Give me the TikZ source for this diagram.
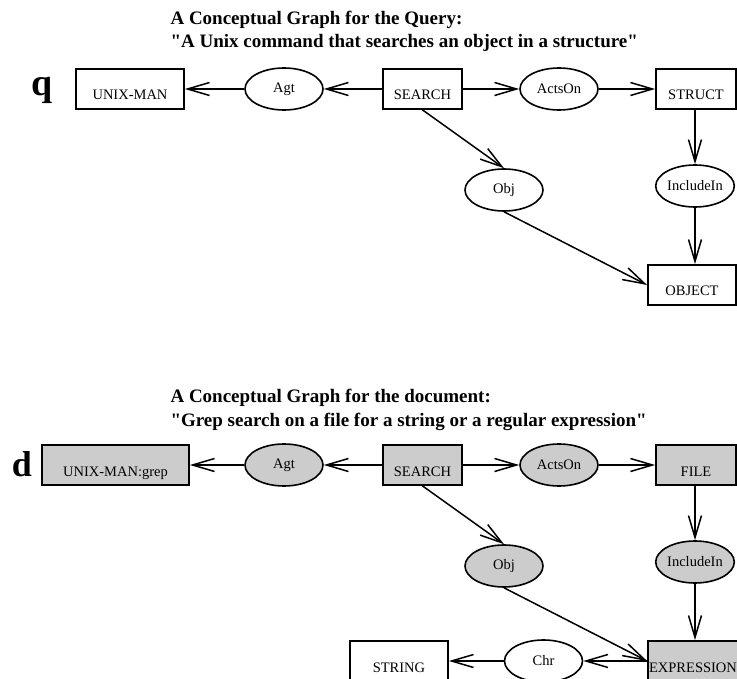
\documentclass[tikz,border=0pt]{standalone}
\usepackage{fontspec}
\setmainfont{Liberation Serif}
\usetikzlibrary{shapes.geometric,arrows.meta}

\begin{document}
\begin{tikzpicture}[x=1pt,y=-1pt,
    concept/.style={draw,rectangle,line width=1.8pt,minimum height=40pt,inner sep=0pt,
      text height=22pt,text depth=0pt,font=\fontsize{14.5}{16}\selectfont},
    relation/.style={draw,ellipse,line width=1.6pt,minimum width=78pt,minimum height=42pt,
      inner sep=0pt,font=\fontsize{14.5}{16}\selectfont},
    shaded/.style={fill=gray!40},
    title/.style={anchor=base west,font=\fontsize{19}{23}\selectfont\bfseries},
    tag/.style={anchor=base,font=\fontsize{38}{40}\selectfont\bfseries},
    link/.style={line width=1.5pt,-{Straight Barb[length=22pt,width=13pt]}}]
    \useasboundingbox (0,0) rectangle (737,679);

    % query graph
    \node[title] (qt1) at (167,25) {A Conceptual Graph for the Query:};
    \node[title] (qt2) at (167,48) {\textquotedbl A Unix command that searches an object in a structure\textquotedbl};
    \node[tag] (q) at (42,96) {q};
    \node[concept,minimum width=108pt] (qman)    at (130,89)   {UNIX-MAN};
    \node[relation]                    (qagt)    at (284,89)   {Agt};
    \node[concept,minimum width=79pt]  (qsearch) at (422.5,89) {SEARCH};
    \node[relation]                    (qacts)   at (559,89)   {ActsOn};
    \node[concept,minimum width=80pt]  (qstruct) at (696,89)   {STRUCT};
    \node[relation]                    (qobj)    at (504,190)  {Obj};
    \node[relation]                    (qincl)   at (695,186)  {IncludeIn};
    \node[concept,minimum width=88pt]  (qobject) at (692,285)  {OBJECT};

    \draw[link] (qsearch) -- (qagt);
    \draw[link] (qagt) -- (qman);
    \draw[link] (qsearch) -- (qacts);
    \draw[link] (qacts) -- (qstruct);
    \draw[link] (qsearch.south) -- (qobj.north);
    \draw[link] (qobj.south) -- (qobject.west);
    \draw[link] (qstruct.south -| qincl) -- (qincl);
    \draw[link] (qincl) -- (qincl |- qobject.north);

    % document graph
    \node[title] (dt1) at (167,402) {A Conceptual Graph for the document:};
    \node[title] (dt2) at (167,426) {\textquotedbl Grep search on a file for a string or a regular expression\textquotedbl};
    \node[tag,font=\fontsize{36}{40}\selectfont\bfseries] (d) at (22,476) {d};
    \node[concept,shaded,minimum width=147pt] (dman)    at (115.5,465) {UNIX-MAN:grep};
    \node[relation,shaded]                    (dagt)    at (284,465)   {Agt};
    \node[concept,shaded,minimum width=79pt]  (dsearch) at (422.5,465) {SEARCH};
    \node[relation,shaded]                    (dacts)   at (559,465)   {ActsOn};
    \node[concept,shaded,minimum width=80pt]  (dfile)   at (696,465)   {FILE};
    \node[relation,shaded]                    (dobj)    at (504,566)   {Obj};
    \node[relation,shaded]                    (dincl)   at (695,562)   {IncludeIn};
    \node[concept,shaded,minimum width=90pt]  (dexpr)   at (693,661)   {EXPRESSION};
    \node[relation]                           (dchr)    at (543.5,661) {Chr};
    \node[concept,minimum width=98pt]         (dstring) at (399,661)   {STRING};

    \draw[link] (dsearch) -- (dagt);
    \draw[link] (dagt) -- (dman);
    \draw[link] (dsearch) -- (dacts);
    \draw[link] (dacts) -- (dfile);
    \draw[link] (dsearch.south) -- (dobj.north);
    \draw[link] (dobj.south) -- (dexpr.west);
    \draw[link] (dfile.south -| dincl) -- (dincl);
    \draw[link] (dincl) -- (dincl |- dexpr.north);
    \draw[link] (dexpr) -- (dchr);
    \draw[link] (dchr) -- (dstring);
\end{tikzpicture}
\end{document}
